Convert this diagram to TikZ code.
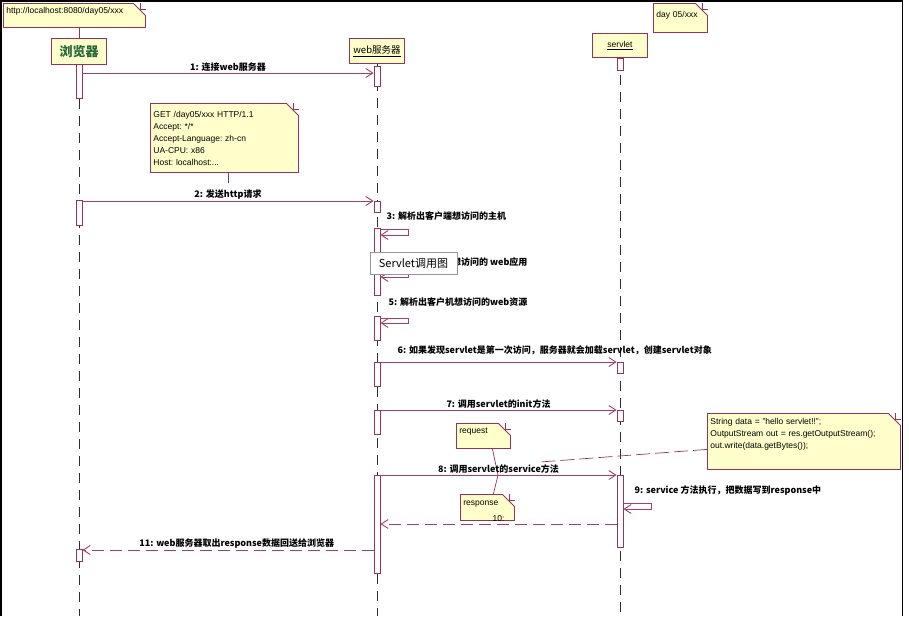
\documentclass[tikz,border=0pt]{standalone}
\usepackage{fontspec}
\setmainfont{Liberation Sans}
\newfontfamily\cjk{Noto Sans CJK SC}
\usepackage{tikz}
\usetikzlibrary{arrows.meta,shapes.misc,positioning,calc}
\definecolor{umlred}{RGB}{153,51,85}
\definecolor{umlline}{RGB}{165,62,105}
\definecolor{notefill}{RGB}{255,255,204}
\definecolor{objgreen}{RGB}{38,102,56}
\definecolor{lifegray}{RGB}{45,45,45}
\definecolor{titlegray}{RGB}{150,150,150}
\tikzstyle{objbox} = [rectangle, draw=umlred, fill=notefill, line width=0.9pt, minimum width=55pt, minimum height=25pt, anchor=north, inner sep=1pt]
\tikzstyle{actbox} = [rectangle, draw=umlred, fill=white, line width=0.8pt, minimum width=6pt, inner sep=0pt, anchor=north]
\tikzstyle{lifeline} = [draw=lifegray, line width=0.9pt, dash pattern=on 10pt off 7pt]
\tikzstyle{msg} = [draw=umlline, line width=0.9pt, -{Straight Barb[length=7pt,width=9pt]}]
\tikzstyle{reply} = [msg, dash pattern=on 12pt off 6pt]
\tikzstyle{msglabel} = [font=\cjk\bfseries\fontsize{9}{10}\selectfont, inner sep=1.5pt]
\tikzstyle{note} = [chamfered rectangle, chamfered rectangle corners=north east, chamfered rectangle sep=6pt, draw=umlred, fill=notefill, line width=0.8pt, anchor=north west, align=left, inner sep=-3pt, text height=7pt, font=\frenchspacing\fontsize{8.5}{12}\selectfont]
\tikzstyle{notelink} = [draw=umlred, line width=0.7pt]

\begin{document}
\begin{tikzpicture}[x=1pt, y=-1pt]
\useasboundingbox (0,0) rectangle (909,616);
\draw[line width=1.5pt] (1,616) -- (1,1) -- (902.5,1) -- (902.5,616);

% objects
\node[objbox, minimum height=26pt, text=objgreen, font=\cjk\bfseries\fontsize{13}{14}\selectfont] (browser) at (79,38) {浏览器};
\node[objbox, font=\cjk\fontsize{9.5}{11}\selectfont] (webserver) at (377,38) {\underline{web服务器}};
\node[objbox, minimum height=24pt, font=\fontsize{8.5}{10}\selectfont] (servlet) at (620,33) {\underline{servlet}};
\coordinate (bottom) at (0,616);

% lifelines
\draw[lifeline] (browser.south) -- (browser.south |- bottom);
\draw[lifeline] (webserver.south) -- (webserver.south |- bottom);
\draw[lifeline] (servlet.south) -- (servlet.south |- bottom);

% note links
\coordinate (m2tag) at (228,183);
\coordinate (m8tag) at (498,475);
\coordinate (m8code) at (540,462);

% notes
\node[note, text width=136pt, text depth=11pt] (urlnote) at (3,3) {http://localhost:8080/day05/xxx};
\node[note, text width=48pt, text height=11.5pt, text depth=11.5pt] (daynote) at (653,3) {day 05/xxx};
\node[note, text width=142pt, text height=11pt, text depth=52pt] (getnote) at (150,103) {GET /day05/xxx HTTP/1.1\\Accept: */*\\Accept-Language: zh-cn\\UA-CPU: x86\\Host: localhost:...};
\node[note, text width=187pt, text height=8pt, text depth=42pt] (codenote) at (707,413) {String data = "hello servlet!!";\\OutputStream out = res.getOutputStream();\\out.write(data.getBytes());};
\node[note, text width=48pt, text depth=12pt] (reqnote) at (456,423) {request};
\node[note, text width=48pt, text height=8pt, text depth=12pt] (respnote) at (460,494) {response};
\foreach \n in {urlnote,daynote,getnote,codenote,reqnote,respnote}
  \draw[umlred, line width=0.6pt] ($(\n.north -| \n.east)+(-6,0)$) |- ($(\n.north -| \n.east)+(0,6)$);

\draw[notelink] (browser.north |- urlnote.south) -- (browser.north);
\draw[notelink] (getnote.south -| m2tag) -- (m2tag);
\draw[notelink] ([xshift=9pt]reqnote.south) -- (m8tag) -- ([xshift=6pt]respnote.north);
\draw[notelink, dash pattern=on 14pt off 5pt] ([yshift=-8pt]codenote.west) -- (m8code);

% activations
\node[actbox, minimum height=34pt] (b1) at (79,64) {};
\node[actbox, minimum height=25pt] (b2) at (79,200) {};
\node[actbox, minimum height=12pt] (b3) at (79,549) {};
\node[actbox, minimum height=20pt] (w1) at (377,66) {};
\node[actbox, minimum height=11pt] (w2) at (377,201) {};
\node[actbox, minimum height=67pt] (w3) at (377,228) {};
\node[actbox, minimum height=24pt] (w4) at (377,316) {};
\node[actbox, minimum height=24pt] (w5) at (377,362) {};
\node[actbox, minimum height=24pt] (w6) at (377,410) {};
\node[actbox, minimum height=98pt] (w7) at (377,475) {};
\node[actbox, minimum height=12pt] (s1) at (620,58) {};
\node[actbox, minimum height=11pt] (s2) at (620,362) {};
\node[actbox, minimum height=11pt] (s3) at (620,410) {};
\node[actbox, minimum height=72pt] (s4) at (620,475) {};

% messages
\coordinate (m1) at (0,73);
\draw[msg] (b1.east |- m1) -- node[msglabel, above] (l1) {1: 连接web服务器} (w1.west |- m1);
\coordinate (m2) at (0,201);
\draw[msg] (b2.east |- m2) -- node[msglabel, above] (l2) {2: 发送http请求} (w2.west |- m2);
\node[msglabel, anchor=west] (l3) at (385,216) {3: 解析出客户端想访问的主机};
\coordinate (m3a) at (0,229);
\coordinate (m3b) at (0,235);
\draw[msg] (w3.east |- m3a) -- ++(28,0) |- (w3.east |- m3b);
\node[msglabel, anchor=west] (l4) at (385,262) {4: 解析出客户端想访问的 web应用};
\coordinate (m4a) at (0,271);
\coordinate (m4b) at (0,277);
\draw[msg] (w3.east |- m4a) -- ++(28,0) |- (w3.east |- m4b);
\node[msglabel, anchor=west] (l5) at (387,302) {5: 解析出客户机想访问的web资源};
\coordinate (m5a) at (0,318);
\coordinate (m5b) at (0,323);
\draw[msg] (w4.east |- m5a) -- ++(28,0) |- (w4.east |- m5b);
\coordinate (m6) at (0,362);
\draw[msg] (w5.east |- m6) -- (s2.west |- m6);
\node[msglabel, anchor=west] (l6) at (396,350) {6: 如果发现servlet是第一次访问，服务器就会加载servlet，创建servlet对象};
\coordinate (m7) at (0,410);
\draw[msg] (w6.east |- m7) -- node[msglabel, above] (l7) {7: 调用servlet的init方法} (s3.west |- m7);
\coordinate (m8) at (0,475);
\draw[msg] (w7.east |- m8) -- node[msglabel, above] (l8) {8: 调用servlet的service方法} (s4.west |- m8);
\node[msglabel, anchor=west] (l9) at (633,490) {9: service 方法执行，把数据写到response中};
\coordinate (m9a) at (0,503);
\coordinate (m9b) at (0,509);
\draw[msg] (s4.east |- m9a) -- ++(28,0) |- (s4.east |- m9b);
\coordinate (m10) at (0,524);
\draw[reply] (s4.west |- m10) -- node[msglabel, above, font=\fontsize{8.5}{10}\selectfont] (l10) {10:} (w7.east |- m10);
\coordinate (m11) at (0,550);
\draw[reply] (w7.west |- m11) -- node[msglabel, above, pos=0.47] (l11) {11: web服务器取出response数据回送给浏览器} (b3.east |- m11);

% caption
\node[draw=titlegray, fill=white, line width=0.8pt, minimum width=87pt, minimum height=22pt, font=\cjk\fontsize{11}{12}\selectfont] (title) at (413.5,263) {Servlet调用图};
\end{tikzpicture}
\end{document}
